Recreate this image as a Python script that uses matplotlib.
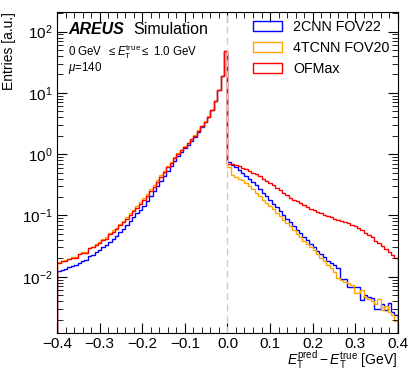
import numpy as np
import matplotlib
matplotlib.use('Agg')
import matplotlib.pyplot as plt
from matplotlib.patches import Patch
from matplotlib.ticker import MultipleLocator, LogLocator, NullFormatter

plt.rcParams['font.family'] = ['Liberation Sans', 'DejaVu Sans']
plt.rcParams['mathtext.fontset'] = 'custom'
plt.rcParams['mathtext.rm'] = 'Liberation Sans'
plt.rcParams['mathtext.it'] = 'Liberation Sans:italic'
plt.rcParams['mathtext.bf'] = 'Liberation Sans:bold'

# bin contents, 100 bins from -0.4 to 0.4 GeV (left half, right half)
cnn_left = [0.0126, 0.0130, 0.0135, 0.0143, 0.0150, 0.0158, 0.0170, 0.0180, 0.0188, 0.0218,
            0.0228, 0.0250, 0.0275, 0.0305, 0.0330, 0.0375, 0.0420, 0.0470, 0.0535, 0.0600,
            0.0690, 0.0800, 0.0930, 0.108, 0.125, 0.145, 0.172, 0.208, 0.248, 0.300,
            0.365, 0.445, 0.540, 0.645, 0.770, 0.920, 1.07, 1.24, 1.43, 1.67,
            1.93, 2.33, 2.82, 3.34, 4.03, 5.20, 7.38, 11.0, 19.1, 48.0]
cnn_right = [0.741, 0.676, 0.617, 0.562, 0.501, 0.447, 0.398, 0.347, 0.309, 0.269,
             0.234, 0.204, 0.178, 0.155, 0.135, 0.117, 0.102, 0.0891, 0.0776, 0.0676,
             0.0589, 0.0513, 0.0447, 0.0398, 0.0347, 0.0302, 0.0263, 0.0234, 0.0209, 0.0182,
             0.0166, 0.0158, 0.0138, 0.00933, 0.00933, 0.00692, 0.00692, 0.00692, 0.00692, 0.00417,
             0.00501, 0.00468, 0.00447, 0.00302, 0.00302, 0.00363, 0.00282, 0.00372, 0.00269, 0.00240]

tcnn_left = [0.0172, 0.0182, 0.0185, 0.0198, 0.0210, 0.0208, 0.0238, 0.0252, 0.0250, 0.0295,
             0.0310, 0.0345, 0.0370, 0.0420, 0.0445, 0.0515, 0.0570, 0.0635, 0.0730, 0.0815,
             0.0930, 0.108, 0.124, 0.142, 0.165, 0.190, 0.222, 0.266, 0.312, 0.375,
             0.450, 0.540, 0.645, 0.755, 0.885, 1.04, 1.19, 1.36, 1.55, 1.78,
             2.05, 2.45, 2.93, 3.44, 4.12, 5.30, 7.46, 11.1, 19.2, 48.2]
tcnn_right = [0.617, 0.457, 0.427, 0.398, 0.372, 0.339, 0.302, 0.269, 0.234, 0.209,
              0.182, 0.162, 0.141, 0.126, 0.110, 0.0977, 0.0851, 0.0759, 0.0661, 0.0575,
              0.0501, 0.0437, 0.0389, 0.0347, 0.0309, 0.0269, 0.0234, 0.0204, 0.0178, 0.0155,
              0.0138, 0.0120, 0.00955, 0.00891, 0.00832, 0.00776, 0.00741, 0.00550, 0.00537, 0.00603,
              0.00468, 0.00437, 0.00398, 0.00363, 0.00437, 0.00282, 0.00331, 0.00263, 0.00240, 0.00186]

of_left = [0.0170, 0.0180, 0.0178, 0.0195, 0.0205, 0.0200, 0.0232, 0.0245, 0.0240, 0.0290,
           0.0300, 0.0330, 0.0355, 0.0400, 0.0420, 0.0490, 0.0540, 0.0600, 0.0690, 0.0770,
           0.0880, 0.102, 0.117, 0.134, 0.155, 0.178, 0.208, 0.250, 0.295, 0.355,
           0.427, 0.513, 0.617, 0.724, 0.851, 1.00, 1.15, 1.32, 1.51, 1.74,
           2.00, 2.40, 2.88, 3.39, 4.07, 5.25, 7.41, 11.0, 19.1, 47.9]
of_right = [0.692, 0.684, 0.661, 0.631, 0.603, 0.569, 0.537, 0.501, 0.468, 0.437,
            0.398, 0.363, 0.339, 0.309, 0.282, 0.257, 0.234, 0.214, 0.195, 0.182,
            0.170, 0.158, 0.148, 0.138, 0.129, 0.123, 0.115, 0.110, 0.102, 0.0977,
            0.0933, 0.0891, 0.0851, 0.0813, 0.0776, 0.0741, 0.0708, 0.0676, 0.0631, 0.0575,
            0.0525, 0.0479, 0.0437, 0.0389, 0.0355, 0.0316, 0.0282, 0.0251, 0.0224, 0.0200]

labels = ['2CNN FOV22', '4TCNN FOV20', 'OFMax']
colors = ['#0000ff', '#ffa500', '#ff0000']
xticks = [-0.4, -0.3, -0.2, -0.1, 0.0, 0.1, 0.2, 0.3, 0.4]

edges = np.linspace(-0.4, 0.4, 101)
series = [cnn_left + cnn_right, tcnn_left + tcnn_right, of_left + of_right]

fig = plt.figure(figsize=(4.08, 3.71), dpi=100)
ax = fig.add_axes([0.14, 0.102, 0.835, 0.866])

handles = []
for vals, lab, c in zip(series, labels, colors):
    ax.stairs(vals, edges, baseline=1e-6, color=c, lw=1.0)
    handles.append(Patch(facecolor='none', edgecolor=c, lw=1.0, label=lab))

ax.axvline(0, color='#cccccc', ls=(0, (5, 3)), lw=1.0, zorder=5)

ax.set_yscale('log')
ax.set_xlim(-0.4, 0.4)
ax.set_ylim(1.2e-3, 2.1e2)

ax.xaxis.set_minor_locator(MultipleLocator(0.02))
ax.yaxis.set_major_locator(LogLocator(base=10, numticks=20))
ax.yaxis.set_minor_locator(LogLocator(base=10, subs=np.arange(2, 10), numticks=20))
ax.yaxis.set_minor_formatter(NullFormatter())
ax.tick_params(which='both', direction='in', top=True, right=True, labelsize=11)
ax.tick_params(axis='x', pad=2.5)
ax.tick_params(which='major', length=7)
ax.tick_params(which='minor', length=4)
ax.set_xticks(xticks)
ax.set_xticklabels([('%.1f' % t).replace('-', '\u2212') for t in xticks])

ax.set_xlabel(r'$E_\mathrm{T}^\mathrm{pred} - E_\mathrm{T}^\mathrm{true}$ [GeV]', fontsize=10, ha='right')
ax.xaxis.set_label_coords(1.0, -0.05)
ax.set_ylabel('Entries [a.u.]', fontsize=10, loc='top')

ax.text(0.032, 0.97, 'AREUS', transform=ax.transAxes, fontsize=11.5, fontweight='bold',
        fontstyle='italic', va='top')
ax.text(0.223, 0.97, 'Simulation', transform=ax.transAxes, fontsize=11.5, va='top')
ax.text(0.032, 0.905, r'0 GeV  $\leq E_\mathrm{T}^\mathrm{true} \leq$ 1.0 GeV', transform=ax.transAxes,
        fontsize=8.3, va='top')
ax.text(0.032, 0.85, r'$\mu$=140', transform=ax.transAxes, fontsize=8.3, va='top')

ax.legend(handles=handles, loc='upper left', frameon=False, fontsize=10.3, handlelength=2.0,
          handleheight=0.7, handletextpad=0.8, borderpad=0, borderaxespad=0,
          labelspacing=0.5, bbox_to_anchor=(0.575, 0.975))

fig.savefig('out.png', dpi=100)
